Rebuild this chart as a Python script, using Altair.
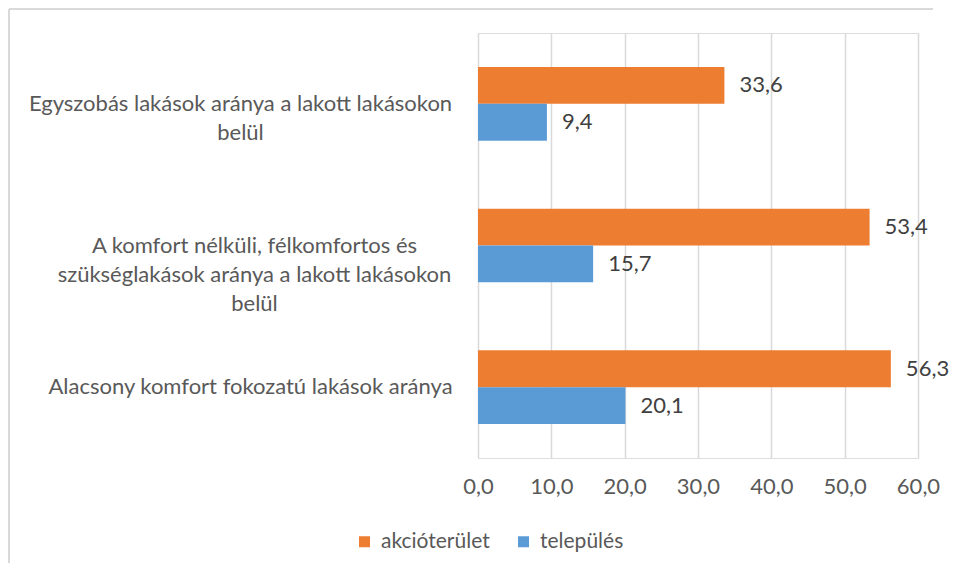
import altair as alt
import pandas as pd

categories = [
    "Egyszobás lakások aránya a lakott lakásokon\nbelül",
    "A komfort nélküli, félkomfortos és\nszükséglakások aránya a lakott lakásokon\nbelül",
    "Alacsony komfort fokozatú lakások aránya",
]
series = ["akcióterület", "település"]
akcio = [33.6, 53.4, 56.3]
telepules = [9.4, 15.7, 20.1]
x_ticks = [0, 10, 20, 30, 40, 50, 60]
colors = ["#ED7D31", "#5B9BD5"]

rows = []
for c, a, t in zip(categories, akcio, telepules):
    rows.append({"cat": c, "series": series[0], "value": a})
    rows.append({"cat": c, "series": series[1], "value": t})
df = pd.DataFrame(rows)

FONT = "Lato"
TXT = "#595959"
FS = 22

y_enc = alt.Y(
    "cat:N",
    sort=categories,
    scale=alt.Scale(paddingInner=0.48, paddingOuter=0.24),
    axis=alt.Axis(
        title=None,
        ticks=False,
        domain=False,
        labelAlign="center",
        labelBaseline="middle",
        labelExpr="split(datum.label, '\\n')",
        labelLineHeight=29,
        labelFont=FONT,
        labelFontSize=FS,
        labelColor=TXT,
        labelLimit=600,
        labelPadding={
            "condition": {"test": "indexof(datum.value, 'Egyszob') == 0", "value": 238},
            "expr": "indexof(datum.value, 'A komfort') == 0 ? 224 : 228",
        },
    ),
)
yoff = alt.YOffset("series:N", sort=series, scale=alt.Scale(paddingInner=0, paddingOuter=0))

x_enc = alt.X(
    "value:Q",
    scale=alt.Scale(domain=[0, 60], nice=False),
    axis=alt.Axis(
        title=None,
        values=x_ticks,
        labelExpr="replace(format(datum.value, '.1f'), '.', ',')",
        domain=False,
        ticks=False,
        grid=True,
        gridColor="#D9D9D9",
        gridWidth=1.5,
        labelFont=FONT,
        labelFontSize=FS,
        labelColor=TXT,
        labelPadding=18,
        labelFlush=False,
        labelOverlap=False,
    ),
)

bars = alt.Chart(df).mark_bar().encode(
    x=x_enc,
    y=y_enc,
    yOffset=yoff,
    color=alt.Color(
        "series:N",
        sort=series,
        scale=alt.Scale(domain=series, range=colors),
        legend=alt.Legend(
            title=None,
            orient="none",
            direction="horizontal",
            legendX=-124,
            legendY=498,
            symbolType="square",
            symbolSize=121,
            symbolStrokeWidth=0,
            labelFont=FONT,
            labelFontSize=21,
            labelColor=TXT,
            labelOffset=6,
            columnPadding=23,
        ),
    ),
)

labels = alt.Chart(df).transform_calculate(
    lbl="replace(format(datum.value, '.1f'), '.', ',')"
).mark_text(
    align="left", baseline="middle", dx=15, font=FONT, fontSize=FS, color="#404040"
).encode(
    x="value:Q",
    y=alt.Y("cat:N", sort=categories),
    yOffset=yoff,
    text="lbl:N",
)

# thin chart-area frame: left and top edges only
frame_data = pd.DataFrame({"f": [0]})
frame_left = alt.Chart(frame_data).mark_rule(
    color="#D9D9D9", strokeWidth=2, clip=False, orient="vertical"
).encode(x=alt.value(-469), y=alt.value(-24), y2=alt.value(530))
frame_top = alt.Chart(frame_data).mark_rule(
    color="#D9D9D9", strokeWidth=2, clip=False, orient="horizontal"
).encode(x=alt.value(-469), x2=alt.value(455), y=alt.value(-24))

chart = alt.layer(frame_left, frame_top, bars, labels).properties(
    width=440,
    height=425,
    autosize=alt.AutoSizeParams(type="none"),
    padding={"left": 470, "top": 25, "right": 31, "bottom": 110},
).configure_view(stroke=None).configure(background="white")

chart.save("out.html", embed_options={"renderer": "svg", "actions": False})
